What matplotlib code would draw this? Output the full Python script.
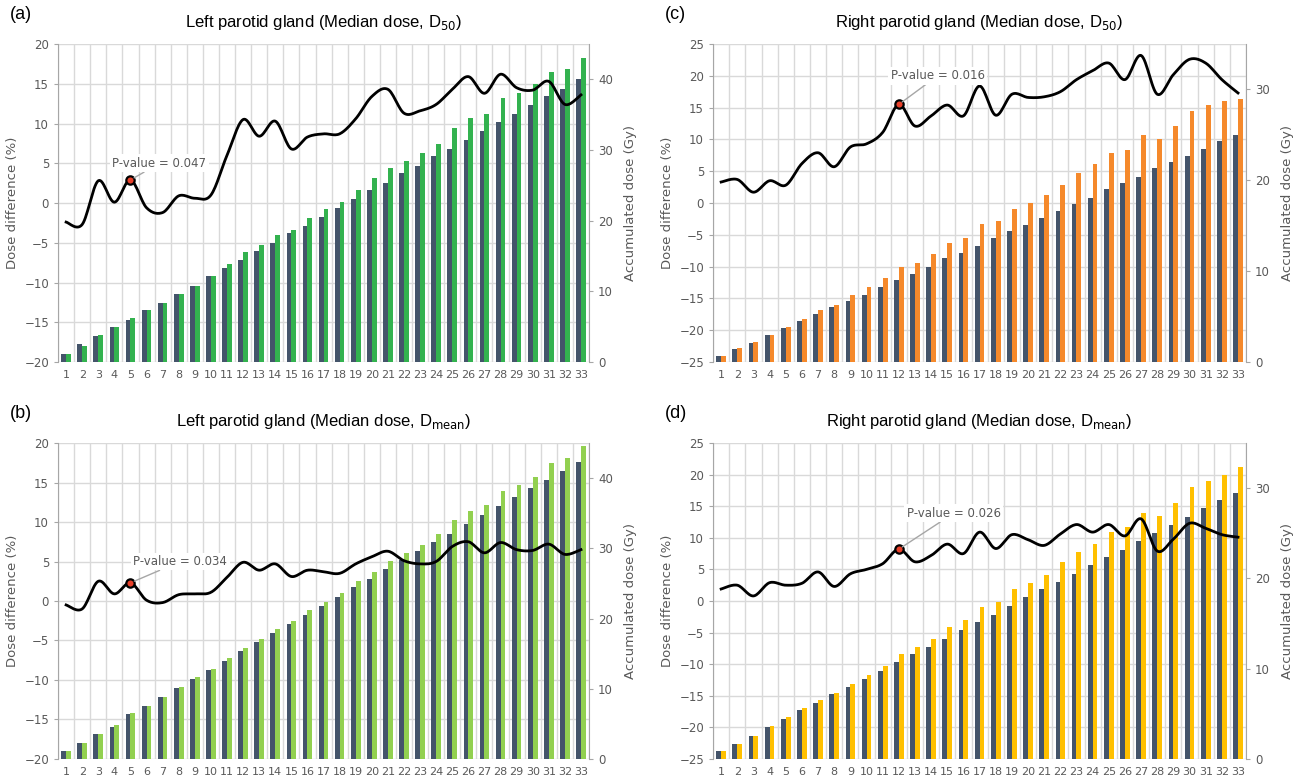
import numpy as np
import matplotlib
matplotlib.use("Agg")
import matplotlib.pyplot as plt

# fractions 1..33
fractions = np.arange(1, 34)

# (a) left parotid, D50 -- accumulated dose (Gy) and dose difference (%)
left_d50_planned = [1.2, 2.5, 3.7, 4.9, 6.0, 7.3, 8.4, 9.6, 10.8, 12.1, 13.3, 14.5, 15.7, 16.9, 18.2, 19.3, 20.5,
                    21.8, 23.0, 24.3, 25.4, 26.7, 27.7, 29.1, 30.1, 31.4, 32.7, 33.9, 35.1, 36.3, 37.6, 38.6, 40.0]
left_d50_accum = [1.2, 2.3, 3.8, 4.9, 6.2, 7.3, 8.4, 9.6, 10.8, 12.1, 13.9, 15.5, 16.5, 18.0, 18.7, 20.4, 21.7,
                  22.7, 24.4, 26.1, 27.5, 28.5, 29.6, 30.9, 33.1, 34.6, 35.1, 37.3, 38.1, 39.4, 41.1, 41.4, 43.0]
left_d50_diff = [-2.4, -2.7, 2.8, 0.1, 2.9, -0.6, -1.2, 0.9, 0.6, 1.0, 6.0, 10.5, 8.4, 10.3, 6.8, 8.3, 8.7,
                 8.7, 10.6, 13.4, 14.3, 11.3, 11.6, 12.4, 14.3, 15.9, 13.8, 16.2, 14.5, 14.2, 15.3, 12.4, 13.6]

# (b) left parotid, Dmean
left_dmean_planned = [1.1, 2.3, 3.5, 4.6, 6.4, 7.6, 8.8, 10.1, 11.4, 12.7, 14.0, 15.4, 16.6, 18.0, 19.2, 20.5, 21.8,
                      23.1, 24.5, 25.7, 27.0, 28.3, 29.6, 30.9, 32.1, 33.5, 34.7, 36.1, 37.3, 38.6, 39.8, 41.0, 42.3]
left_dmean_accum = [1.1, 2.3, 3.6, 4.8, 6.5, 7.6, 8.8, 10.2, 11.7, 12.8, 14.4, 15.8, 17.1, 18.5, 19.6, 21.2, 22.4,
                    23.6, 25.3, 26.7, 28.2, 29.4, 30.5, 32.0, 34.0, 35.3, 36.2, 38.1, 39.0, 40.2, 42.2, 42.9, 44.6]
left_dmean_diff = [-0.5, -1.0, 2.5, 0.9, 2.3, 0.1, -0.2, 0.8, 0.9, 1.1, 3.0, 4.9, 3.9, 4.7, 3.1, 3.9, 3.7,
                   3.5, 4.7, 5.6, 6.3, 5.1, 4.7, 5.0, 6.9, 7.5, 6.1, 7.4, 6.5, 6.4, 7.2, 5.9, 6.5]

# (c) right parotid, D50
right_d50_planned = [0.66, 1.4, 2.1, 3.0, 3.7, 4.5, 5.3, 6.0, 6.75, 7.4, 8.3, 9.0, 9.7, 10.5, 11.4, 12.0, 12.8,
                     13.6, 14.4, 15.1, 15.8, 16.6, 17.4, 18.1, 19.0, 19.7, 20.4, 21.3, 22.0, 22.7, 23.4, 24.3, 25.0]
right_d50_accum = [0.66, 1.5, 2.25, 3.0, 3.8, 4.7, 5.7, 6.3, 7.4, 8.3, 9.2, 10.5, 10.9, 11.9, 13.1, 13.6, 15.2,
                   15.5, 16.8, 17.5, 18.4, 19.5, 20.8, 21.8, 23.0, 23.3, 25.0, 24.5, 26.0, 27.6, 28.3, 28.7, 28.9]
right_d50_diff = [3.3, 3.7, 1.7, 3.5, 2.8, 6.2, 7.9, 5.7, 8.8, 9.3, 11.1, 15.5, 12.1, 13.7, 15.4, 13.7, 18.4,
                  13.8, 17.1, 16.6, 16.7, 17.5, 19.4, 20.8, 22.0, 19.4, 23.2, 17.1, 20.2, 22.6, 22.0, 19.4, 17.3]

# (d) right parotid, Dmean
right_dmean_planned = [0.85, 1.7, 2.5, 3.5, 4.4, 5.4, 6.2, 7.2, 8.0, 8.9, 9.8, 10.7, 11.6, 12.4, 13.3, 14.3, 15.2,
                       16.0, 16.9, 17.9, 18.8, 19.6, 20.5, 21.5, 22.4, 23.2, 24.2, 25.0, 25.9, 26.8, 27.8, 28.7, 29.5]
right_dmean_accum = [0.85, 1.7, 2.5, 3.6, 4.6, 5.6, 6.5, 7.3, 8.3, 9.3, 10.3, 11.6, 12.4, 13.3, 14.6, 15.4, 16.8,
                     17.4, 18.8, 19.5, 20.4, 21.8, 22.9, 23.8, 25.1, 25.7, 27.2, 26.9, 28.4, 30.1, 30.8, 31.5, 32.3]
right_dmean_diff = [1.9, 2.5, 0.8, 2.9, 2.5, 2.8, 4.6, 2.3, 4.3, 5.0, 5.9, 8.2, 6.2, 7.2, 9.0, 7.5, 10.9,
                    8.3, 10.5, 9.7, 8.8, 10.6, 12.1, 10.9, 12.1, 10.3, 13.0, 7.9, 9.8, 12.3, 11.5, 10.5, 10.1]

BLUE = "#44546a"
GRID = "#d9d9d9"
TXT = "#595959"


def smooth(x, y, n=16):
    """Catmull-Rom spline through the points (like Excel's smoothed line)."""
    p = np.column_stack([x, y]).astype(float)
    p = np.vstack([p[0], p, p[-1]])
    t = np.linspace(0, 1, n)[:, None]
    out = []
    for i in range(1, len(p) - 2):
        p0, p1, p2, p3 = p[i - 1], p[i], p[i + 1], p[i + 2]
        seg = 0.5 * (2 * p1 + (-p0 + p2) * t + (2 * p0 - 5 * p1 + 4 * p2 - p3) * t ** 2
                     + (-p0 + 3 * p1 - 3 * p2 + p3) * t ** 3)
        out.append(seg if i == 1 else seg[1:])
    s = np.vstack(out)
    return s[:, 0], s[:, 1]


def draw_panel(rect, label, title, planned, accum, diff, color, pct_lim, gy_lim, gy_ticks,
               mark_idx, ptext, ptext_xy):
    ax = fig.add_axes(rect)
    ax.set_xlim(0.5, 33.5)
    ax.set_ylim(*pct_lim)
    ax.set_yticks(np.arange(pct_lim[0], pct_lim[1] + 1, 5))
    ax.set_xticks(fractions)
    ax.set_xticks(np.arange(0.5, 34, 1), minor=True)
    ax.tick_params(axis="x", which="both", length=0, labelsize=8, colors=TXT, pad=6)
    ax.tick_params(axis="y", length=3, color="#a6a6a6", labelsize=8.5, labelcolor=TXT)
    ax.grid(axis="y", color=GRID, lw=1)
    ax.grid(axis="x", which="minor", color=GRID, lw=1)
    ax.set_axisbelow(True)
    for s in ("top", "bottom", "right"):
        ax.spines[s].set_visible(False)
    ax.spines["left"].set_color("#a6a6a6")
    ax.set_ylabel("Dose difference (%)", color=TXT, fontsize=9.5)

    ax2 = ax.twinx()
    ax2.bar(fractions - 0.15, planned, width=0.3, color=BLUE, zorder=2)
    ax2.bar(fractions + 0.15, accum, width=0.3, color=color, zorder=2)
    ax2.set_ylim(*gy_lim)
    ax2.set_yticks(gy_ticks)
    ax2.tick_params(axis="y", length=3, color="#a6a6a6", labelsize=8.5, labelcolor=TXT)
    for s in ("top", "bottom", "left"):
        ax2.spines[s].set_visible(False)
    ax2.spines["right"].set_color("#a6a6a6")
    ax2.set_ylabel("Accumulated dose (Gy)", color=TXT, fontsize=9.5, labelpad=8)

    # line drawn on top of the bars but in % units
    sx, sy = smooth(fractions, diff)
    ax2.plot(sx, sy, color="black", lw=2.0, transform=ax.transData, zorder=3)
    mx, my = fractions[mark_idx], diff[mark_idx]
    ax2.plot([mx], [my], "o", ms=6, mfc="#e8402a", mec="black", mew=1.6,
             transform=ax.transData, zorder=4)
    ax2.annotate(ptext, xy=(mx, my), xycoords=ax.transData, xytext=ptext_xy,
                 textcoords=ax.transData, ha="center", va="center", fontsize=8.5, color=TXT,
                 bbox=dict(boxstyle="square,pad=0.2", fc="white", ec="none"),
                 arrowprops=dict(arrowstyle="-", color="#a6a6a6", lw=1, shrinkA=0, shrinkB=3),
                 zorder=5)

    x0, y0, w, h = rect
    fig.text(x0 - 0.037, y0 + h + 0.038, label, fontsize=13, family="Liberation Sans", va="center")
    fig.text(x0 + w / 2, y0 + h + 0.028, title, fontsize=12, family="Liberation Sans",
             ha="center", va="center")
    return ax, ax2


fig = plt.figure(figsize=(12.96, 7.79), dpi=100)

draw_panel([0.0448, 0.5353, 0.4097, 0.4082], "(a)", r"Left parotid gland (Median dose, D$_{50}$)",
           left_d50_planned, left_d50_accum, left_d50_diff, "#33b24f",
           (-20, 20), (0, 45), [0, 10, 20, 30, 40], 4, "P-value = 0.047", (6.8, 5.0))
draw_panel([0.5502, 0.5353, 0.4113, 0.4082], "(c)", r"Right parotid gland (Median dose, D$_{50}$)",
           right_d50_planned, right_d50_accum, right_d50_diff, "#f5892b",
           (-25, 25), (0, 35), [0, 10, 20, 30], 11, "P-value = 0.016", (14.4, 20.0))
draw_panel([0.0448, 0.0257, 0.4097, 0.4056], "(b)", r"Left parotid gland (Median dose, D$_{\mathrm{mean}}$)",
           left_dmean_planned, left_dmean_accum, left_dmean_diff, "#92d050",
           (-20, 20), (0, 45), [0, 10, 20, 30, 40], 4, "P-value = 0.034", (8.1, 5.0))
draw_panel([0.5502, 0.0257, 0.4113, 0.4056], "(d)", r"Right parotid gland (Median dose, D$_{\mathrm{mean}}$)",
           right_dmean_planned, right_dmean_accum, right_dmean_diff, "#ffc000",
           (-25, 25), (0, 35), [0, 10, 20, 30], 11, "P-value = 0.026", (15.4, 13.9))

fig.savefig("out.png", dpi=100)
